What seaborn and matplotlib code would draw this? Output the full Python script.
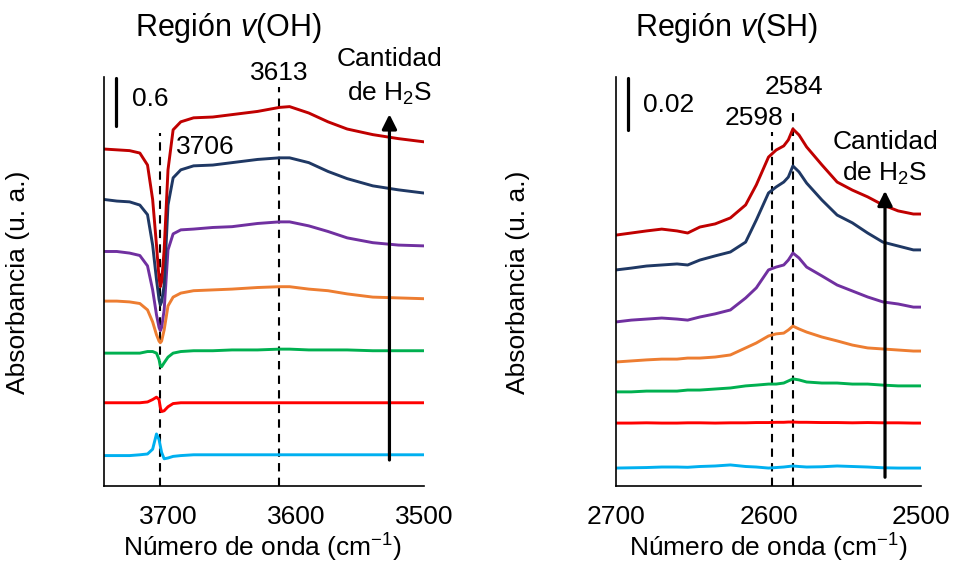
import pandas as pd
import matplotlib
matplotlib.use("Agg")
import matplotlib.pyplot as plt
import seaborn as sns

# spectra, from lowest to highest H2S dose
samples = ["1", "2", "3", "4", "5", "6", "7"]
colors = ["#00B0F0", "#FF0000", "#00B050", "#ED7D31", "#7030A0", "#1F3864", "#C00000"]

# v(OH) region
wn_oh = [3750, 3740, 3730, 3722, 3716, 3712, 3709, 3707, 3706, 3705, 3703, 3700, 3696,
         3690, 3680, 3665, 3650, 3630, 3613, 3605, 3590, 3575, 3560, 3540, 3520, 3500]
oh_cyan = [0.38, 0.38, 0.38, 0.39, 0.40, 0.46, 0.65, 0.58, 0.50, 0.42, 0.34, 0.35, 0.37,
           0.38, 0.39, 0.39, 0.39, 0.39, 0.39, 0.39, 0.39, 0.39, 0.39, 0.39, 0.39, 0.39]
oh_red = [1.04, 1.04, 1.04, 1.04, 1.05, 1.08, 1.11, 1.08, 0.98, 0.93, 0.94, 0.99, 1.03,
          1.04, 1.04, 1.04, 1.04, 1.04, 1.04, 1.04, 1.04, 1.04, 1.04, 1.04, 1.04, 1.04]
oh_green = [1.66, 1.66, 1.66, 1.66, 1.68, 1.68, 1.66, 1.58, 1.50, 1.49, 1.54, 1.61, 1.66,
            1.68, 1.69, 1.69, 1.70, 1.70, 1.71, 1.71, 1.70, 1.70, 1.70, 1.69, 1.69, 1.69]
oh_orange = [2.31, 2.31, 2.30, 2.28, 2.20, 2.05, 1.89, 1.81, 1.79, 1.81, 1.95, 2.25, 2.36,
             2.41, 2.44, 2.45, 2.46, 2.48, 2.49, 2.49, 2.46, 2.44, 2.40, 2.36, 2.35, 2.34]
oh_purple = [2.93, 2.93, 2.91, 2.88, 2.75, 2.45, 2.14, 1.98, 1.94, 1.98, 2.20, 2.95, 3.15,
             3.20, 3.21, 3.23, 3.24, 3.28, 3.30, 3.30, 3.25, 3.18, 3.10, 3.04, 3.01, 3.00]
oh_navy = [3.58, 3.56, 3.55, 3.51, 3.39, 3.01, 2.58, 2.33, 2.26, 2.30, 2.51, 3.51, 3.85,
           3.95, 4.00, 4.01, 4.04, 4.08, 4.10, 4.10, 4.04, 3.93, 3.84, 3.75, 3.70, 3.66]
oh_darkred = [4.21, 4.20, 4.19, 4.16, 4.01, 3.58, 3.01, 2.60, 2.49, 2.55, 2.95, 3.95, 4.45,
              4.55, 4.60, 4.61, 4.64, 4.68, 4.73, 4.74, 4.66, 4.55, 4.46, 4.39, 4.34, 4.30]

# v(SH) region
wn_sh = [2700, 2690, 2680, 2670, 2660, 2653, 2645, 2635, 2625, 2615, 2608, 2600, 2595,
         2590, 2587, 2584, 2580, 2575, 2565, 2555, 2545, 2535, 2525, 2515, 2505, 2500]
sh_cyan = [0.0069, 0.0070, 0.0071, 0.0073, 0.0073, 0.0072, 0.0075, 0.0077, 0.0081, 0.0075,
           0.0073, 0.0069, 0.0071, 0.0073, 0.0075, 0.0077, 0.0075, 0.0073, 0.0074, 0.0077,
           0.0075, 0.0073, 0.0070, 0.0069, 0.0069, 0.0069]
sh_red = [0.0242, 0.0242, 0.0243, 0.0242, 0.0242, 0.0243, 0.0243, 0.0242, 0.0243, 0.0243,
          0.0244, 0.0244, 0.0245, 0.0245, 0.0246, 0.0246, 0.0245, 0.0245, 0.0244, 0.0244,
          0.0243, 0.0244, 0.0243, 0.0243, 0.0242, 0.0242]
sh_green = [0.0362, 0.0362, 0.0365, 0.0365, 0.0365, 0.0369, 0.0369, 0.0373, 0.0377, 0.0385,
            0.0388, 0.0392, 0.0392, 0.0396, 0.0404, 0.0412, 0.0408, 0.0400, 0.0396, 0.0396,
            0.0392, 0.0392, 0.0388, 0.0385, 0.0385, 0.0385]
sh_orange = [0.0477, 0.0481, 0.0485, 0.0488, 0.0488, 0.0492, 0.0492, 0.0496, 0.0504, 0.0531,
             0.0550, 0.0577, 0.0585, 0.0588, 0.0600, 0.0615, 0.0604, 0.0592, 0.0573, 0.0558,
             0.0542, 0.0531, 0.0527, 0.0523, 0.0519, 0.0519]
sh_purple = [0.0631, 0.0638, 0.0642, 0.0646, 0.0642, 0.0638, 0.0650, 0.0662, 0.0677, 0.0723,
             0.0762, 0.0831, 0.0842, 0.0850, 0.0869, 0.0896, 0.0877, 0.0842, 0.0808, 0.0773,
             0.0750, 0.0727, 0.0708, 0.0700, 0.0688, 0.0688]
sh_navy = [0.0831, 0.0838, 0.0846, 0.0850, 0.0854, 0.0850, 0.0869, 0.0885, 0.0900, 0.0938,
           0.1023, 0.1127, 0.1150, 0.1169, 0.1188, 0.1231, 0.1208, 0.1165, 0.1100, 0.1042,
           0.1012, 0.0973, 0.0938, 0.0923, 0.0908, 0.0908]
sh_darkred = [0.0965, 0.0973, 0.0981, 0.0988, 0.0981, 0.0973, 0.0996, 0.1008, 0.1031, 0.1081,
              0.1158, 0.1265, 0.1292, 0.1308, 0.1331, 0.1373, 0.1350, 0.1304, 0.1235, 0.1169,
              0.1138, 0.1112, 0.1081, 0.1058, 0.1046, 0.1046]

oh_peaks = [3706, 3613]
sh_peaks = [2598, 2584]


def long_frame(wn, curves):
    rows = []
    for name, vals in zip(samples, curves):
        rows.append(pd.DataFrame({"wn": wn, "abs": vals, "sample": name}))
    return pd.concat(rows, ignore_index=True)


sns.set_style("white")
plt.rcParams["font.family"] = ["Liberation Sans", "DejaVu Sans"]
plt.rcParams["mathtext.fontset"] = "custom"
plt.rcParams["mathtext.rm"] = "Liberation Sans"
plt.rcParams["mathtext.it"] = "Liberation Sans:italic"
plt.rcParams["text.color"] = "black"
plt.rcParams["xtick.color"] = "black"
FS = 19

fig = plt.figure(figsize=(9.55, 5.68), dpi=100)
W, H = 955, 568
ax1 = fig.add_axes([104 / W, 1 - 486 / H, 320 / W, 409 / H])
ax2 = fig.add_axes([616 / W, 1 - 486 / H, 305 / W, 409 / H])
palette = dict(zip(samples, colors))

df_oh = long_frame(wn_oh, [oh_cyan, oh_red, oh_green, oh_orange, oh_purple, oh_navy, oh_darkred])
df_sh = long_frame(wn_sh, [sh_cyan, sh_red, sh_green, sh_orange, sh_purple, sh_navy, sh_darkred])

for ax, df in [(ax1, df_oh), (ax2, df_sh)]:
    sns.lineplot(data=df, x="wn", y="abs", hue="sample", palette=palette, hue_order=samples,
                 estimator=None, sort=False, lw=2.1, legend=False, ax=ax)
    sns.despine(ax=ax)
    for side in ["left", "bottom"]:
        ax.spines[side].set_color("black")
        ax.spines[side].set_linewidth(1.2)
    ax.set_yticks([])
    ax.set_xlabel("")
    ax.set_ylabel("")
    ax.tick_params(axis="x", direction="in", length=4, width=1, pad=14, labelsize=FS,
                   colors="black", labelcolor="black")
    ax.patch.set_alpha(0)

# left panel
ax1.set_xlim(3750, 3500)
ax1.set_ylim(0, 5.11)
ax1.set_xticks([3700, 3600, 3500])
ax1.vlines(oh_peaks[0], 0, 4.41, colors="black", linestyles=(0, (4, 3)), lw=1.5, zorder=1)
ax1.vlines(oh_peaks[1], 0, 4.98, colors="black", linestyles=(0, (4, 3)), lw=1.5, zorder=1)
ax1.text(3671, 4.23, "3706", fontsize=FS, ha="center", va="center")
ax1.text(3613, 5.16, "3613", fontsize=FS, ha="center", va="center", clip_on=False)
ax1.plot([3740.6, 3740.6], [4.5, 5.1], color="black", lw=2.3, clip_on=False)
ax1.text(3728, 4.83, "0.6", fontsize=FS, ha="left", va="center")
ax1.annotate("", xy=(3527, 4.68), xytext=(3527, 0.29),
             arrowprops=dict(arrowstyle="-|>", color="black", lw=2.3, mutation_scale=22))
ax1.text(3527, 5.33, "Cantidad", fontsize=FS, ha="center", va="center", clip_on=False)
ax1.text(3527, 4.91, "de H$_2$S", fontsize=FS, ha="center", va="center", clip_on=False)
ax1.text(0.39, 1.12, "Región $\\mathit{v}$(OH)", transform=ax1.transAxes, fontsize=22,
         ha="center", va="center")

# right panel
ax2.set_xlim(2700, 2500)
ax2.set_ylim(0, 0.1573)
ax2.set_xticks([2700, 2600, 2500])
ax2.vlines(sh_peaks[0], 0, 0.1362, colors="black", linestyles=(0, (4, 3)), lw=1.5, zorder=1)
ax2.vlines(sh_peaks[1], 0, 0.1446, colors="black", linestyles=(0, (4, 3)), lw=1.5, zorder=1)
ax2.text(2609.5, 0.1415, "2598", fontsize=FS, ha="center", va="center")
ax2.text(2583, 0.1535, "2584", fontsize=FS, ha="center", va="center")
ax2.plot([2692, 2692], [0.1369, 0.1569], color="black", lw=2.3, clip_on=False)
ax2.text(2682, 0.1465, "0.02", fontsize=FS, ha="left", va="center")
ax2.annotate("", xy=(2523.6, 0.1146), xytext=(2523.6, 0.0023),
             arrowprops=dict(arrowstyle="-|>", color="black", lw=2.3, mutation_scale=22))
ax2.text(2523.6, 0.1323, "Cantidad", fontsize=FS, ha="center", va="center")
ax2.text(2523.6, 0.1204, "de H$_2$S", fontsize=FS, ha="center", va="center")
ax2.text(0.364, 1.12, "Región $\\mathit{v}$(SH)", transform=ax2.transAxes, fontsize=22,
         ha="center", va="center")

# axis labels
for xc, yc in [(18, 282), (518, 282)]:
    fig.text(xc / W, 1 - yc / H, "Absorbancia (u. a.)", rotation=90, fontsize=FS,
             ha="center", va="center")
for xc in [262, 768]:
    fig.text(xc / W, 1 - 548 / H, "Número de onda (cm$^{-1}$)", fontsize=FS,
             ha="center", va="center")

fig.savefig("out.png", dpi=100)
